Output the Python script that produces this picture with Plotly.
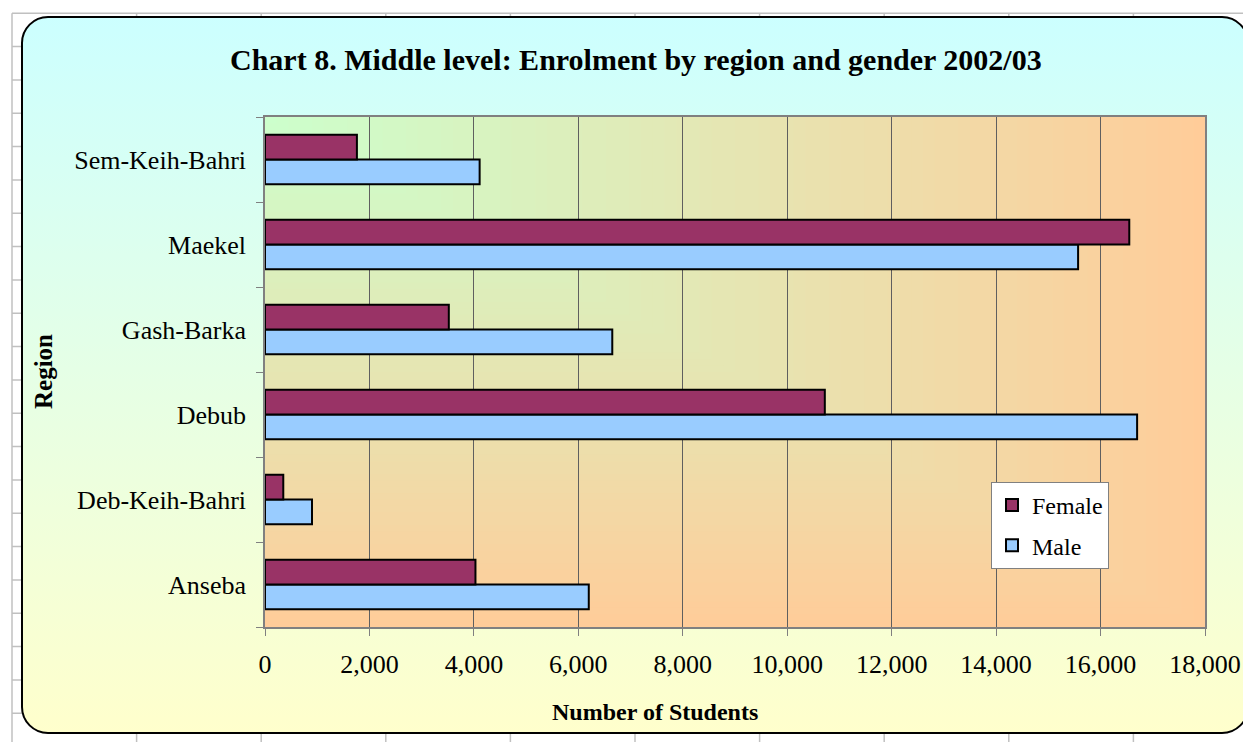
import base64
import plotly.graph_objects as go

# ---------------- data ----------------
regions = ["Anseba", "Deb-Keih-Bahri", "Debub", "Gash-Barka", "Maekel", "Sem-Keih-Bahri"]
female = [4030, 350, 10720, 3520, 16550, 1760]
male = [6200, 900, 16700, 6650, 15570, 4110]
x_ticks = [0, 2000, 4000, 6000, 8000, 10000, 12000, 14000, 16000, 18000]

title_text = "Chart 8. Middle level: Enrolment by region and gender 2002/03"
x_title = "Number of Students"
y_title = "Region"

# ---------------- geometry (window pixels) ----------------
W, H = 1243, 742
PL, PR, PT, PB = 265, 1205, 117, 627    # plot area in pixels
PW, PH = PR - PL, PB - PT

FONT = "Liberation Serif"


def lerp(c1, c2, t):
    a = [int(c1[i:i + 2], 16) for i in (1, 3, 5)]
    b = [int(c2[i:i + 2], 16) for i in (1, 3, 5)]
    return "#%02x%02x%02x" % tuple(round(a[i] + (b[i] - a[i]) * t) for i in range(3))


# background svg: spreadsheet grid, rounded chart area, corner gradient plot area
parts = [f'<svg xmlns="http://www.w3.org/2000/svg" width="{W}" height="{H}" viewBox="0 0 {W} {H}" preserveAspectRatio="none">',
         '<defs><linearGradient id="bg" x1="0" y1="0" x2="0" y2="1">'
         '<stop offset="0" stop-color="#CCFFFF"/><stop offset="1" stop-color="#FFFFCC"/>'
         '</linearGradient></defs>',
         f'<rect x="0" y="0" width="{W}" height="{H}" fill="#ffffff"/>']
cx = 12.0
while cx < W:
    parts.append(f'<line x1="{cx:.1f}" y1="13.3" x2="{cx:.1f}" y2="{H}" stroke="#c0c0c0" stroke-width="1.5"/>')
    cx += 124.6
ry = 13.3
while ry < H:
    parts.append(f'<line x1="12" y1="{ry:.1f}" x2="{W}" y2="{ry:.1f}" stroke="#c0c0c0" stroke-width="1.5"/>')
    ry += 33.33
parts.append('<rect x="22" y="17" width="1226" height="716" rx="26" ry="26" fill="url(#bg)" stroke="#000000" stroke-width="2"/>')
N = 80
for k in range(N, 0, -1):
    col = lerp("#CCFFCC", "#FFCC99", (k - 0.5) / N)
    parts.append(f'<rect x="{PL}" y="{PT}" width="{PW * k / N:.2f}" height="{PH * k / N:.2f}" fill="{col}"/>')
parts.append('</svg>')
svg = "".join(parts)
src = "data:image/svg+xml;base64," + base64.b64encode(svg.encode()).decode()

fig = go.Figure()
fig.add_trace(go.Bar(
    y=regions, x=male, name="Male", orientation="h", legendgroup="m", legendrank=2,
    marker=dict(color="#99CCFF", line=dict(color="#000000", width=2)),
))
fig.add_trace(go.Bar(
    y=regions, x=female, name="Female", orientation="h", legendgroup="f", legendrank=1,
    marker=dict(color="#993366", line=dict(color="#000000", width=2)),
))


def px(x):   # pixel -> paper x
    return (x - PL) / PW


def py(y):   # pixel -> paper y
    return (PB - y) / PH


fig.update_layout(
    width=W, height=H, autosize=False,
    margin=dict(l=PL, r=W - PR, t=PT, b=H - PB, pad=0, autoexpand=False),
    paper_bgcolor="#ffffff", plot_bgcolor="rgba(0,0,0,0)",
    barmode="group", bargap=0.42, bargroupgap=0,
    font=dict(family=FONT, color="#000000", size=24),
    showlegend=True,
    legend=dict(
        x=px(991), y=py(482), xanchor="left", yanchor="top",
        bgcolor="#ffffff", bordercolor="#808080", borderwidth=1,
        traceorder="grouped", tracegroupgap=6,
        font=dict(family=FONT, size=24, color="#000000"),
        itemwidth=30,
    ),
    xaxis=dict(
        range=[0, 18000], tickvals=x_ticks, tickformat=",d",
        showgrid=True, gridcolor="#5f5f5f", gridwidth=1,
        ticks="outside", ticklen=7, tickcolor="#808080", tickwidth=1,
        showline=True, linecolor="#808080", linewidth=1.5, mirror=True,
        zeroline=False, tickfont=dict(family=FONT, size=26, color="#000000"),
        ticklabelstandoff=6, fixedrange=True, automargin=False,
    ),
    yaxis=dict(
        type="category", categoryorder="array", categoryarray=regions,
        tickson="boundaries", ticks="outside", ticklen=7, tickcolor="#808080",
        showline=True, linecolor="#808080", linewidth=1.5, mirror=True,
        showgrid=False, zeroline=False,
        tickfont=dict(family=FONT, size=26, color="#000000"),
        ticklabelstandoff=12, fixedrange=True, automargin=False,
    ),
    images=[dict(
        source=src, xref="paper", yref="paper",
        x=px(0), y=py(0), sizex=W / PW, sizey=H / PH,
        xanchor="left", yanchor="top", sizing="stretch", layer="below",
    )],
    annotations=[
        dict(text=f"<b>{title_text}</b>", xref="paper", yref="paper",
             x=px(636), y=py(60), xanchor="center", yanchor="middle",
             showarrow=False, font=dict(family=FONT, size=30, color="#000000")),
        dict(text=f"<b>{x_title}</b>", xref="paper", yref="paper",
             x=px(655), y=py(712), xanchor="center", yanchor="middle",
             showarrow=False, font=dict(family=FONT, size=24, color="#000000")),
        dict(text=f"<b>{y_title}</b>", xref="paper", yref="paper",
             x=px(43), y=py(372), xanchor="center", yanchor="middle", textangle=-90,
             showarrow=False, font=dict(family=FONT, size=25, color="#000000")),
    ],
)

fig.write_html(
    "out.html",
    config={"displayModeBar": False},
    post_script="document.body.style.margin='0';document.body.style.overflow='hidden';",
)
